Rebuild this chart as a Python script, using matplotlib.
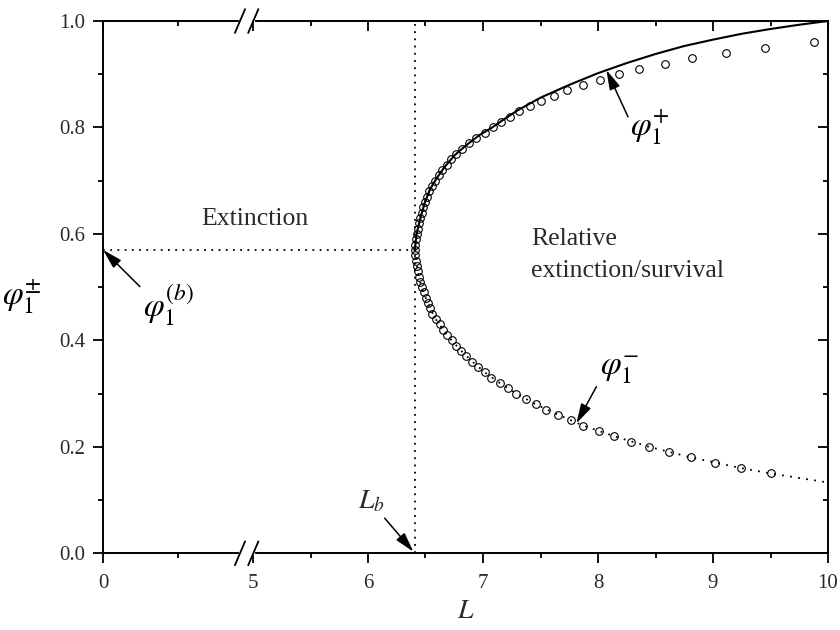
import numpy as np
import matplotlib
matplotlib.use('Agg')
import matplotlib.pyplot as plt
from matplotlib.ticker import FixedLocator, FixedFormatter

# numerical solution (open circles), upper branch phi_1^+
num_up_phi = [0.57, 0.58, 0.59, 0.60, 0.61, 0.62, 0.63, 0.64, 0.65, 0.66,
              0.67, 0.68, 0.69, 0.70, 0.71, 0.72, 0.73, 0.74, 0.75, 0.76,
              0.77, 0.78, 0.79, 0.80, 0.81, 0.82, 0.83, 0.84, 0.85, 0.86,
              0.87, 0.88, 0.89, 0.90, 0.91, 0.92, 0.93, 0.94, 0.95, 0.96]
num_up_L = [6.410, 6.412, 6.418, 6.428, 6.438, 6.447, 6.456, 6.468, 6.482, 6.496,
            6.513, 6.531, 6.553, 6.584, 6.614, 6.647, 6.683, 6.722, 6.763, 6.817,
            6.874, 6.935, 7.015, 7.087, 7.160, 7.238, 7.313, 7.406, 7.508, 7.615,
            7.734, 7.870, 8.015, 8.180, 8.360, 8.580, 8.820, 9.110, 9.450, 9.876]

# numerical solution (open circles), lower branch phi_1^-
num_lo_phi = [0.56, 0.55, 0.54, 0.53, 0.52, 0.51, 0.50, 0.49, 0.48, 0.47,
              0.46, 0.45, 0.44, 0.43, 0.42, 0.41, 0.40, 0.39, 0.38, 0.37,
              0.36, 0.35, 0.34, 0.33, 0.32, 0.31, 0.30, 0.29, 0.28, 0.27,
              0.26, 0.25, 0.24, 0.23, 0.22, 0.21, 0.20, 0.19, 0.18, 0.17,
              0.16, 0.15]
num_lo_L = [6.412, 6.418, 6.425, 6.432, 6.440, 6.452, 6.466, 6.483, 6.501, 6.520,
            6.535, 6.558, 6.588, 6.623, 6.655, 6.690, 6.727, 6.769, 6.812, 6.856,
            6.908, 6.957, 7.015, 7.073, 7.145, 7.217, 7.290, 7.371, 7.458, 7.551,
            7.656, 7.763, 7.870, 8.006, 8.142, 8.284, 8.444, 8.618, 8.812, 9.015,
            9.247, 9.502]

# analytic phi_1^+ (solid line)
ana_up_L = [6.410, 6.412, 6.420, 6.435, 6.458, 6.493, 6.537, 6.595, 6.667, 6.754,
            6.856, 6.971, 7.073, 7.160, 7.300, 7.500, 7.750, 8.000, 8.250, 8.500,
            8.750, 9.000, 9.250, 9.500, 9.750, 10.00]
ana_up_phi = [0.570, 0.580, 0.595, 0.612, 0.632, 0.658, 0.683, 0.704, 0.726, 0.748,
              0.767, 0.786, 0.799, 0.812, 0.832, 0.856, 0.880, 0.902, 0.921, 0.938,
              0.953, 0.965, 0.976, 0.985, 0.993, 1.000]

# analytic phi_1^- (dotted line)
ana_lo_L = [6.410, 6.418, 6.440, 6.466, 6.501, 6.540, 6.588, 6.655, 6.727, 6.812,
            6.908, 7.015, 7.145, 7.290, 7.458, 7.656, 7.870, 8.142, 8.444, 8.812,
            9.247, 9.502, 10.00]
ana_lo_phi = [0.570, 0.550, 0.520, 0.500, 0.480, 0.460, 0.440, 0.420, 0.400, 0.380,
              0.360, 0.340, 0.320, 0.300, 0.280, 0.260, 0.240, 0.220, 0.200, 0.180,
              0.160, 0.150, 0.133]

# bifurcation point
L_b = 6.41
phi_b = 0.57

x_major = [0, 5, 6, 7, 8, 9, 10]
x_major_labels = ['0', '5', '6', '7', '8', '9', '10']
x_minor = [2.5, 5.5, 6.5, 7.5, 8.5, 9.5]
y_major = [0.0, 0.2, 0.4, 0.6, 0.8, 1.0]
y_major_labels = ['0.0', '0.2', '0.4', '0.6', '0.8', '1.0']
y_minor = [0.1, 0.3, 0.5, 0.7, 0.9]

# 0..5 is squeezed before the axis break
SQUEEZE = 30.0 / 115.0


def fwd(x):
    x = np.asarray(x, dtype=float)
    return np.where(x <= 5, x * SQUEEZE, 5 * SQUEEZE + (x - 5))


def inv(u):
    u = np.asarray(u, dtype=float)
    return np.where(u <= 5 * SQUEEZE, u / SQUEEZE, u - 5 * SQUEEZE + 5)


TEXT_C = '#2a2a2a'


def setup_x(axis_obj, labels):
    axis_obj.set_xscale('function', functions=(fwd, inv))
    axis_obj.set_xlim(0, 10)
    axis_obj.xaxis.set_major_locator(FixedLocator(x_major))
    axis_obj.xaxis.set_minor_locator(FixedLocator(x_minor))
    if labels:
        axis_obj.xaxis.set_major_formatter(FixedFormatter(x_major_labels))


def setup_y(axis_obj, labels):
    axis_obj.set_ylim(0, 1.0)
    axis_obj.yaxis.set_major_locator(FixedLocator(y_major))
    axis_obj.yaxis.set_minor_locator(FixedLocator(y_minor))
    if labels:
        axis_obj.yaxis.set_major_formatter(FixedFormatter(y_major_labels))


def arrow(ax, head, tail):
    ax.annotate('', xy=head, xytext=tail,
                arrowprops=dict(arrowstyle='-|>,head_length=0.8,head_width=0.22',
                                mutation_scale=15, color='k', lw=1.1,
                                shrinkA=0, shrinkB=0))


def main():
    plt.rcParams['font.family'] = 'serif'
    plt.rcParams['font.serif'] = ['Liberation Serif', 'DejaVu Serif']
    plt.rcParams['mathtext.fontset'] = 'stix'

    fig = plt.figure(figsize=(8.4, 6.3), dpi=100)
    ax = fig.add_axes([103 / 840, 1 - 553.3 / 630, 725 / 840, 532.3 / 630])

    # curves
    ax.plot(ana_up_L, ana_up_phi, '-', color='k', lw=1.5, zorder=3)
    ax.plot(ana_lo_L, ana_lo_phi, color='k', lw=1.3, ls=(0, (1, 3.5)), zorder=3)
    ax.plot(num_up_L, num_up_phi, 'o', ms=5.5, mfc='none', mec='k', mew=0.8, zorder=4)
    ax.plot(num_lo_L, num_lo_phi, 'o', ms=5.5, mfc='none', mec='k', mew=0.8, zorder=4)

    # bifurcation guides
    ax.plot([L_b, L_b], [0, 1.0], color='k', lw=1.3, ls=(0, (1, 3)), zorder=2)
    ax.plot([0, L_b], [phi_b, phi_b], color='k', lw=1.3, ls=(0, (1, 3)), zorder=2)

    setup_x(ax, True)
    setup_y(ax, True)
    ax.tick_params(which='both', direction='out', width=1.3, colors='k',
                   labelcolor=TEXT_C, labelsize=15)
    ax.tick_params(which='major', length=7)
    ax.tick_params(which='minor', length=3.5)
    ax.tick_params(axis='x', pad=8)
    ax.tick_params(axis='y', pad=6)
    for sp in ax.spines.values():
        sp.set_linewidth(1.4)

    # mirrored ticks pointing inward on top / right
    ax_top = ax.twiny()
    setup_x(ax_top, False)
    ax_top.tick_params(axis='x', which='both', direction='in', width=1.3,
                       labeltop=False)
    ax_top.tick_params(axis='x', which='major', length=7)
    ax_top.tick_params(axis='x', which='minor', length=3.5)
    ax_right = ax.twinx()
    setup_y(ax_right, False)
    ax_right.tick_params(axis='y', which='both', direction='in', width=1.3,
                         labelright=False)
    ax_right.tick_params(axis='y', which='major', length=7)
    ax_right.tick_params(axis='y', which='minor', length=3.5)
    for tw in (ax_top, ax_right):
        for sp in tw.spines.values():
            sp.set_visible(False)

    # axis break marks
    x1, x2 = (240 - 103) / 725, (253.3 - 103) / 725
    dx, dy = 5 / 725, 11.7 / 532.3
    for yb in (0, 1):
        ax.plot([x1 + 0.001, x2 - 0.001], [yb, yb], color='white', lw=3,
                transform=ax.transAxes, clip_on=False, zorder=10)
        for xc in (x1, x2):
            ax.plot([xc - dx, xc + dx], [yb - dy, yb + dy], color='k', lw=1.3,
                    transform=ax.transAxes, clip_on=False, zorder=11)

    # region labels
    ax.text(5.017, 0.617, 'Extinction', ha='center', va='baseline',
            fontsize=18.5, color=TEXT_C)
    ax.text(7.42, 0.579, 'Relative', ha='left', va='baseline',
            fontsize=18.5, color=TEXT_C)
    ax.text(7.42, 0.520, 'extinction/survival', ha='left', va='baseline',
            fontsize=18.5, color=TEXT_C)

    # annotated quantities
    arrow(ax, (0.0, phi_b), (1.23, 0.501))
    ax.text(1.33, 0.466, r'$\varphi_1^{(b)}$', ha='left', va='center', fontsize=24)
    arrow(ax, (8.073, 0.908), (8.261, 0.820))
    ax.text(8.277, 0.799, r'$\varphi_1^{+}$', ha='left', va='center', fontsize=24)
    arrow(ax, (7.812, 0.244), (7.986, 0.313))
    ax.text(8.015, 0.346, r'$\varphi_1^{-}$', ha='left', va='center', fontsize=24)
    arrow(ax, (L_b - 0.015, 0.003), (6.145, 0.066))
    ax.text(5.91, 0.098, r'$L_b$', ha='left', va='center', fontsize=20, color=TEXT_C)

    # axis titles
    ax.text(0.5, -0.110, r'$L$', transform=ax.transAxes, ha='center', va='center',
            fontsize=20, color=TEXT_C)
    ax.text(-0.112, 0.481, r'$\varphi_1^{\pm}$', transform=ax.transAxes,
            ha='center', va='center', fontsize=24)

    fig.savefig('out.png', dpi=100)


if __name__ == "__main__":
    main()
